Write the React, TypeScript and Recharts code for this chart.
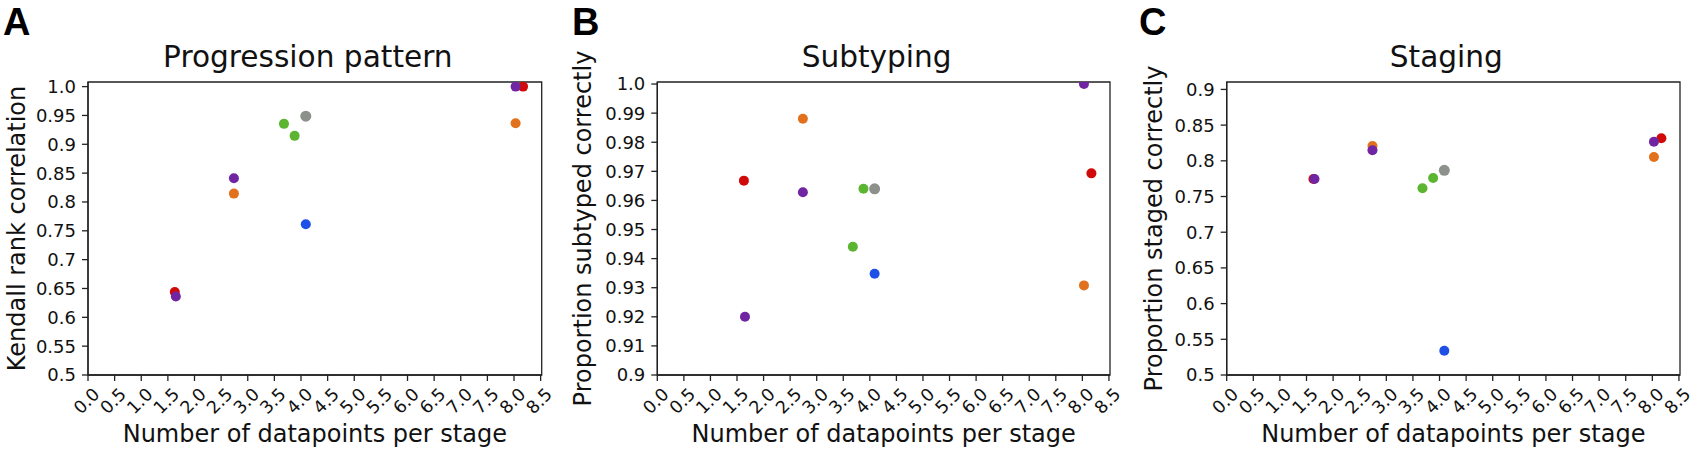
import { ScatterChart, Scatter, XAxis, YAxis, ReferenceArea } from "recharts";

// x positions (datapoints per stage) for each colour group
const redX = [1.63, 8.17];
const purpleX = [1.65, 2.74, 8.03];
const orangeX = [2.74, 8.03];
const greenX = [3.68, 3.88];
const grayX = [4.09];
const blueX = [4.09];

// Progression pattern (Kendall rank correlation)
const progRed = [0.644, 1.0];
const progPurple = [0.636, 0.841, 1.0];
const progOrange = [0.8145, 0.9366];
const progGreen = [0.9354, 0.9146];
const progGray = [0.9487];
const progBlue = [0.7614];

// Subtyping
const subRed = [0.9668, 0.9693];
const subPurple = [0.92, 0.9628, 1.0];
const subOrange = [0.9881, 0.9308];
const subGreen = [0.9441, 0.964];
const subGray = [0.964];
const subBlue = [0.9348];

// Staging
const stageRed = [0.7745, 0.8315];
const stagePurple = [0.7745, 0.8147, 0.8268];
const stageOrange = [0.8207, 0.8053];
const stageGreen = [0.7615, 0.7759];
const stageGray = [0.7867];
const stageBlue = [0.534];

const xTicks = [0, 0.5, 1, 1.5, 2, 2.5, 3, 3.5, 4, 4.5, 5, 5.5, 6, 6.5, 7, 7.5, 8, 8.5];
const xTickLabels = ["0.0", "0.5", "1.0", "1.5", "2.0", "2.5", "3.0", "3.5", "4.0", "4.5", "5.0", "5.5", "6.0", "6.5", "7.0", "7.5", "8.0", "8.5"];

const progTicks = [0.5, 0.55, 0.6, 0.65, 0.7, 0.75, 0.8, 0.85, 0.9, 0.95, 1.0];
const progTickLabels = ["0.5", "0.55", "0.6", "0.65", "0.7", "0.75", "0.8", "0.85", "0.9", "0.95", "1.0"];
const subTicks = [0.9, 0.91, 0.92, 0.93, 0.94, 0.95, 0.96, 0.97, 0.98, 0.99, 1.0];
const subTickLabels = ["0.9", "0.91", "0.92", "0.93", "0.94", "0.95", "0.96", "0.97", "0.98", "0.99", "1.0"];
const stageTicks = [0.5, 0.55, 0.6, 0.65, 0.7, 0.75, 0.8, 0.85, 0.9];
const stageTickLabels = ["0.5", "0.55", "0.6", "0.65", "0.7", "0.75", "0.8", "0.85", "0.9"];

const X_MAX = 8.52;
const FONT = "'DejaVu Sans', sans-serif";
const INK = "#111";
const SPINE = { stroke: "#222", strokeWidth: 1.3 };
const EXTRA = 30; // extra room on the right so the last rotated tick label is not clipped

const COLORS = {
  red: "#d00a0a",
  orange: "#e2711d",
  green: "#5cb531",
  gray: "#8c918c",
  blue: "#1e50e8",
  purple: "#7026a3",
};

function pts(xs: number[], ys: number[]) {
  return xs.map((x, i) => ({ x, y: ys[i] }));
}

function labelFor(ticks: number[], labels: string[]) {
  return (v: number) => {
    let best = 0;
    ticks.forEach((t, i) => {
      if (Math.abs(t - v) < Math.abs(ticks[best] - v)) best = i;
    });
    return labels[best];
  };
}

const xLabel = labelFor(xTicks, xTickLabels);

function XTick(props: any) {
  const { x, y, payload } = props;
  const cx = x - 1.5;
  const cy = y + 20;
  return (
    <text
      x={cx}
      y={cy}
      textAnchor="middle"
      dominantBaseline="central"
      transform={`rotate(-45 ${cx} ${cy})`}
      fontSize={17.5}
      fontFamily={FONT}
      fill={INK}
    >
      {xLabel(payload.value)}
    </text>
  );
}

const dot = (color: string, r = 5) => (p: any) => <circle cx={p.cx} cy={p.cy} r={r} fill={color} />;

interface PanelProps {
  left: number;
  width: number;
  yAxisWidth: number;
  right: number;
  yDomain: [number, number];
  yTicks: number[];
  yTickLabels: string[];
  red: number[];
  purple: number[];
  orange: number[];
  green: number[];
  gray: number[];
  blue: number[];
}

function Panel(p: PanelProps) {
  return (
    <div style={{ position: "absolute", left: p.left, top: 0 }}>
      <ScatterChart width={p.width + EXTRA} height={452} margin={{ top: 82, right: p.right + EXTRA, bottom: 0, left: 0 }}>
        <XAxis
          type="number"
          dataKey="x"
          domain={[0, X_MAX]}
          ticks={xTicks}
          interval={0}
          allowDataOverflow
          height={77}
          tickSize={6}
          tickMargin={0}
          axisLine={SPINE}
          tickLine={SPINE}
          tick={<XTick />}
        />
        <YAxis
          type="number"
          dataKey="y"
          domain={p.yDomain}
          ticks={p.yTicks}
          interval={0}
          allowDataOverflow
          width={p.yAxisWidth}
          tickSize={6}
          tickMargin={6}
          axisLine={SPINE}
          tickLine={SPINE}
          tickFormatter={labelFor(p.yTicks, p.yTickLabels)}
          tick={{ fontSize: 18, fontFamily: FONT, fill: INK }}
        />
        <ReferenceArea
          x1={0}
          x2={X_MAX}
          y1={p.yDomain[0]}
          y2={p.yDomain[1]}
          fill="none"
          fillOpacity={0}
          stroke="#222"
          strokeWidth={1.3}
          ifOverflow="visible"
        />
        <Scatter data={pts(redX, p.red)} shape={dot(COLORS.red)} isAnimationActive={false} />
        <Scatter data={pts(orangeX, p.orange)} shape={dot(COLORS.orange)} isAnimationActive={false} />
        <Scatter data={pts(greenX, p.green)} shape={dot(COLORS.green)} isAnimationActive={false} />
        <Scatter data={pts(grayX, p.gray)} shape={dot(COLORS.gray, 5.5)} isAnimationActive={false} />
        <Scatter data={pts(blueX, p.blue)} shape={dot(COLORS.blue)} isAnimationActive={false} />
        <Scatter data={pts(purpleX, p.purple)} shape={dot(COLORS.purple)} isAnimationActive={false} />
      </ScatterChart>
    </div>
  );
}

const panels = [
  { letter: "A", letterX: 3, title: "Progression pattern", ylabel: "Kendall rank correlation", ylabelX: 25, plotL: 88, plotR: 541.7 },
  { letter: "B", letterX: 572, title: "Subtyping", ylabel: "Proportion subtyped correctly", ylabelX: 591, plotL: 657.3, plotR: 1110 },
  { letter: "C", letterX: 1139, title: "Staging", ylabel: "Proportion staged correctly", ylabelX: 1162, plotL: 1226.7, plotR: 1680 },
];

export default function App() {
  return (
    <div style={{ position: "absolute", left: 0, top: 0, width: 1693, height: 452, background: "#fff", overflow: "hidden" }}>
      <Panel
        left={0}
        width={560}
        yAxisWidth={88}
        right={18.3}
        yDomain={[0.5, 1.008]}
        yTicks={progTicks}
        yTickLabels={progTickLabels}
        red={progRed}
        purple={progPurple}
        orange={progOrange}
        green={progGreen}
        gray={progGray}
        blue={progBlue}
      />
      <Panel
        left={560}
        width={560}
        yAxisWidth={97.3}
        right={10}
        yDomain={[0.9, 1.0007]}
        yTicks={subTicks}
        yTickLabels={subTickLabels}
        red={subRed}
        purple={subPurple}
        orange={subOrange}
        green={subGreen}
        gray={subGray}
        blue={subBlue}
      />
      <Panel
        left={1120}
        width={573}
        yAxisWidth={106.7}
        right={13}
        yDomain={[0.5, 0.9104]}
        yTicks={stageTicks}
        yTickLabels={stageTickLabels}
        red={stageRed}
        purple={stagePurple}
        orange={stageOrange}
        green={stageGreen}
        gray={stageGray}
        blue={stageBlue}
      />
      <svg width={1693} height={452} style={{ position: "absolute", left: 0, top: 0, pointerEvents: "none" }}>
        {panels.map((p) => {
          const cx = (p.plotL + p.plotR) / 2;
          return (
            <g key={p.letter} fill={INK}>
              <text x={p.letterX} y={34.5} fontSize={38} fontWeight="bold" fontFamily="'Liberation Sans', Arial, sans-serif" fill="#000">
                {p.letter}
              </text>
              <text x={cx - 7} y={67} textAnchor="middle" fontSize={29.6} fontFamily={FONT}>
                {p.title}
              </text>
              <text x={cx} y={442} textAnchor="middle" fontSize={24} fontFamily={FONT}>
                Number of datapoints per stage
              </text>
              <text transform={`translate(${p.ylabelX},228.5) rotate(-90)`} textAnchor="middle" fontSize={24} fontFamily={FONT}>
                {p.ylabel}
              </text>
            </g>
          );
        })}
      </svg>
    </div>
  );
}
